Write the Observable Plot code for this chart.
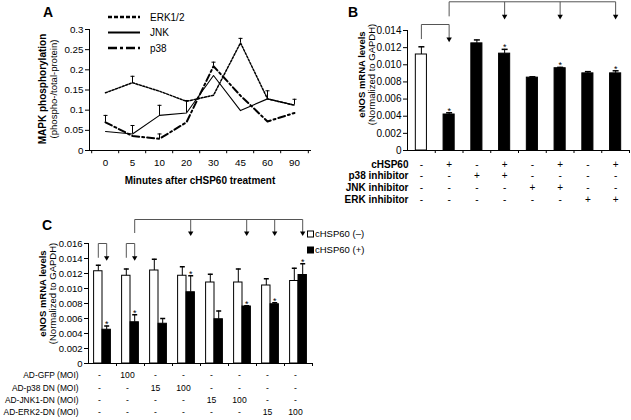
<!DOCTYPE html>
<html><head><meta charset="utf-8">
<script src="https://cdn.jsdelivr.net/npm/d3@7"></script>
<script src="https://cdn.jsdelivr.net/npm/@observablehq/plot@0.6"></script>
<style>
body{margin:0;background:#fff;}
#fig{position:relative;width:631px;height:420px;overflow:hidden;background:#fff;font-family:'Liberation Sans',Arial,sans-serif;color:#000;}
#fig > svg, #fig > .abs{position:absolute;}
.letter{position:absolute;font-weight:bold;font-size:14px;line-height:1;}
</style></head><body><div id="fig"></div>
<script>
// ---------- Panel A data ----------
const aMinutes = ["0","5","10","20","30","45","60","90"];
const aTicks = [0, 0.05, 0.1, 0.15, 0.2, 0.25, 0.3];
const aERK    = [0.143, 0.168, 0.147, 0.122, 0.137, 0.267, 0.128, 0.112];
const aERKErr = [0, 0.016, 0, 0, 0, 0.011, 0, 0];
const aJNK    = [0.047, 0.041, 0.087, 0.093, 0.186, 0.099, 0.128, 0.113];
const aJNKErr = [0, 0.021, 0.025, 0.031, 0, 0, 0.020, 0.014];
const aP38    = [0.070, 0.036, 0.029, 0.070, 0.209, 0.136, 0.072, 0.093];
const aP38Err = [0.017, 0, 0.012, 0, 0.010, 0, 0, 0];
const aSeries = ["ERK1/2", "JNK", "p38"];

// ---------- Panel B data ----------
const bTicks = [0, 0.002, 0.004, 0.006, 0.008, 0.010, 0.012, 0.014];
const bMean = [0.0112, 0.0042, 0.0125, 0.0113, 0.0085, 0.0096, 0.0090, 0.0090];
const bErr  = [0.0009, 0.0002, 0.0004, 0.0005, 0.0001, 0.0001, 0.0002, 0.0003];
const bStar = ["", "*", "", "*", "", "*", "", "*"];
const bRowLabels = ["cHSP60", "p38 inhibitor", "JNK inhibitor", "ERK inhibitor"];
const bCHSP60 = ["-","+","-","+","-","+","-","+"];
const bP38    = ["-","-","+","+","-","-","-","-"];
const bJNK    = ["-","-","-","-","+","+","-","-"];
const bERK    = ["-","-","-","-","-","-","+","+"];
const bBrackets = [{from: 0, to: [1], top: 0.0147, drop: 0.0130},
                   {from: 1, to: [3, 5, 7], top: 0.01735, drop: 0.01565}];

// ---------- Panel C data ----------
const cTicks = [0, 0.002, 0.004, 0.006, 0.008, 0.010, 0.012, 0.014, 0.016];
const cSeries = ["cHSP60 (–)", "cHSP60 (+)"];
const cNeg    = [0.0123, 0.0117, 0.0124, 0.0117, 0.0108, 0.0108, 0.0104, 0.0110];
const cNegErr = [0.0008, 0.0009, 0.0015, 0.0012, 0.0011, 0.0018, 0.0009, 0.0017];
const cPos    = [0.0045, 0.0055, 0.0053, 0.0095, 0.0059, 0.0076, 0.0079, 0.0118];
const cPosErr = [0.0005, 0.0010, 0.0007, 0.0022, 0.0011, 0.0001, 0.0002, 0.0015];
const cStar   = ["*", "*", "", "*", "", "*", "*", "*"];
const cRowLabels = ["AD-GFP (MOI)", "AD-p38 DN (MOI)", "AD-JNK1-DN (MOI)", "AD-ERK2-DN (MOI)"];
const cGFP  = ["-","100","-","-","-","-","-","-"];
const cP38  = ["-","-","15","100","-","-","-","-"];
const cJNK1 = ["-","-","-","-","15","100","-","-"];
const cERK2 = ["-","-","-","-","-","-","15","100"];
const cSmallBrackets = [{group: 0, top: 0.0160, drop: 0.0141}, {group: 1, top: 0.0160, drop: 0.0141}];
const cBigBracket = {from: 1, to: [3, 5, 6, 7], top: 0.0192, drop: 0.0174};

// ---------- helpers ----------
const FONT = "'Liberation Sans', Arial, sans-serif";
const fig = document.getElementById("fig");
const cap = {draw(ctx, size) { const r = Math.sqrt(size / Math.PI); ctx.moveTo(-r, 0); ctx.lineTo(r, 0); }};
const fmt3 = d => d === 0 ? "0" : d.toFixed(3);
const BR = "#555";
function place(svg, left, top) { svg.style.left = left + "px"; svg.style.top = top + "px"; fig.appendChild(svg); }
function letter(t, x, y) { const d = document.createElement("div"); d.className = "letter"; d.textContent = t; d.style.left = x + "px"; d.style.top = y + "px"; fig.appendChild(d); }

// ================= Panel A =================
{
  const W = 320, H = 200, mL = 89, mR = 10, mT = 29, mB = 50;
  const step = (W - mL - mR) / aMinutes.length;
  const vals = [aERK, aJNK, aP38], errs = [aERKErr, aJNKErr, aP38Err];
  const rows = aSeries.flatMap((s, k) => aMinutes.map((m, i) => ({series: s, minute: m, value: vals[k][i], err: errs[k][i]})));
  const errRows = rows.filter(d => d.err > 0);
  const styles = {"ERK1/2": {strokeWidth: 1.5, strokeDasharray: "2,1.6"},
                  "JNK": {strokeWidth: 1.1},
                  "p38": {strokeWidth: 2, strokeDasharray: "7,3,2,3"}};
  const svg = Plot.plot({
    width: W, height: H, marginLeft: mL, marginRight: mR, marginTop: mT, marginBottom: mB,
    style: {fontFamily: FONT, fontSize: "9.8px", color: "#000", background: "transparent", overflow: "visible"},
    x: {type: "point", domain: aMinutes, padding: 0.5, tickSize: 0, tickPadding: 9, line: true, label: null},
    y: {domain: [0, 0.3], ticks: aTicks, tickFormat: d => String(d), tickSize: 4, tickPadding: 2, line: true, label: null},
    marks: [
      Plot.ruleX(aMinutes, {x: d => d, dx: -step / 2, y1: 0, y2: -0.008, stroke: "#000"}),
      Plot.ruleX(aMinutes.slice(-1), {x: d => d, dx: step / 2, y1: 0, y2: -0.008, stroke: "#000"}),
      ...aSeries.map(s => Plot.line(rows.filter(d => d.series === s), {x: "minute", y: "value", stroke: "#000", ...styles[s]})),
      Plot.ruleX(errRows, {x: "minute", y1: "value", y2: d => d.value + d.err, stroke: "#000", strokeWidth: 1}),
      Plot.dot(errRows, {x: "minute", y: d => d.value + d.err, symbol: cap, r: 2, stroke: "#000", fill: "none", strokeWidth: 1}),
      Plot.text(["Minutes after cHSP60 treatment"], {frameAnchor: "bottom", dy: 30, lineAnchor: "middle", fontWeight: "bold", fontSize: 10}),
      Plot.text(["MAPK phosphorylation"], {frameAnchor: "left", dx: -47, dy: -1, rotate: -90, textAnchor: "middle", lineAnchor: "middle", fontWeight: "bold", fontSize: 10}),
      Plot.text(["(phospho-/total-protein)"], {frameAnchor: "left", dx: -36, dy: -1, rotate: -90, textAnchor: "middle", lineAnchor: "middle", fontSize: 9.5})
    ]
  });
  place(svg, 0, 0);
  // legend
  const lg = d3.create("svg").attr("width", 90).attr("height", 50).attr("class", "abs")
    .style("left", "105px").style("top", "8px").style("font-family", FONT).style("font-size", "10px");
  const legStyles = [{w: 2.5, dash: "4,2"}, {w: 2, dash: null}, {w: 2.5, dash: "9,3,3,3"}];
  aSeries.forEach((s, k) => {
    const y = 9 + k * 15.5;
    lg.append("line").attr("x1", 3).attr("x2", 35).attr("y1", y).attr("y2", y)
      .attr("stroke", "#000").attr("stroke-width", legStyles[k].w).attr("stroke-dasharray", legStyles[k].dash);
    lg.append("text").attr("x", 45).attr("y", y).attr("dy", "0.35em").text(s);
  });
  fig.appendChild(lg.node());
  letter("A", 43, 5);
}

// ================= Panel B =================
{
  const W = 311, H = 210, mL = 87, mR = 2, mT = 30, mB = 60;
  const table = [bCHSP60, bP38, bJNK, bERK];
  const rows = bMean.map((v, i) => ({i, v, e: bErr[i], star: bStar[i], control: table.every(a => a[i] === "-")}));
  const segs = [], tips = [];
  for (const b of bBrackets) {
    const last = b.to[b.to.length - 1];
    segs.push({x1: b.from + 0.5, y1: b.drop, x2: b.from + 0.5, y2: b.top});
    segs.push({x1: b.from + 0.5, y1: b.top, x2: last + 0.5, y2: b.top});
    for (const t of b.to) { segs.push({x1: t + 0.5, y1: b.top, x2: t + 0.5, y2: b.drop}); tips.push({x: t + 0.5, y: b.drop}); }
  }
  const rowDy = [14, 25.7, 37.4, 49];
  const svg = Plot.plot({
    width: W, height: H, marginLeft: mL, marginRight: mR, marginTop: mT, marginBottom: mB,
    style: {fontFamily: FONT, fontSize: "10px", color: "#000", background: "transparent", overflow: "visible"},
    x: {domain: [0, 8], ticks: d3.range(1, 9), tickSize: 3, tickFormat: () => "", line: true, label: null},
    y: {domain: [0, 0.014], ticks: bTicks, tickFormat: fmt3, tickSize: 4, tickPadding: 2, line: true, label: null},
    marks: [
      Plot.rectY(rows, {x1: d => d.i + 0.3, x2: d => d.i + 0.7, y1: 0, y2: "v", fill: d => d.control ? "white" : "black", stroke: "black", strokeWidth: 1}),
      Plot.ruleX(rows, {x: d => d.i + 0.5, y1: "v", y2: d => d.v + d.e, stroke: "#000"}),
      Plot.dot(rows, {x: d => d.i + 0.5, y: d => d.v + d.e, symbol: cap, r: 3, stroke: "#000", fill: "none"}),
      Plot.text(rows.filter(d => d.star), {x: d => d.i + 0.5, y: d => d.v + d.e, text: "star", lineAnchor: "bottom", dy: 1, fontSize: 9}),
      Plot.link(segs, {x1: "x1", y1: "y1", x2: "x2", y2: "y2", stroke: BR, strokeWidth: 1}),
      Plot.dot(tips, {x: "x", y: "y", symbol: "triangle", rotate: 180, r: 2, fill: "#000", stroke: "none"}),
      ...bRowLabels.map((lab, r) => Plot.text([lab], {frameAnchor: "bottom-left", dx: 1, dy: rowDy[r], textAnchor: "end", lineAnchor: "middle", fontWeight: "bold", fontSize: 10})),
      ...table.map((arr, r) => Plot.text(arr, {x: (d, i) => i + 0.5, frameAnchor: "bottom", dy: rowDy[r], lineAnchor: "middle", fontSize: 10})),
      Plot.text(["eNOS mRNA levels"], {frameAnchor: "left", dx: -46, dy: -16, rotate: -90, textAnchor: "middle", lineAnchor: "middle", fontWeight: "bold", fontSize: 9.5}),
      Plot.text(["(Normalized to GAPDH)"], {frameAnchor: "left", dx: -36, dy: -16, rotate: -90, textAnchor: "middle", lineAnchor: "middle", fontSize: 9.5})
    ]
  });
  place(svg, 320, 0);
  letter("B", 348, 5);
}

// ================= Panel C =================
{
  const W = 631, H = 210, mL = 88, mR = 319, mT = 33, mB = 57;
  const table = [cGFP, cP38, cJNK1, cERK2];
  const rows = cSeries.flatMap((s, k) => cNeg.map((_, i) => ({
    series: s, i, v: k === 0 ? cNeg[i] : cPos[i], e: k === 0 ? cNegErr[i] : cPosErr[i],
    x1: i + (k === 0 ? 0.2 : 0.5), x2: i + (k === 0 ? 0.5 : 0.8), star: k === 1 ? cStar[i] : ""})));
  const segs = [], tips = [];
  for (const b of cSmallBrackets) {
    segs.push({x1: b.group + 0.35, y1: b.drop, x2: b.group + 0.35, y2: b.top});
    segs.push({x1: b.group + 0.35, y1: b.top, x2: b.group + 0.65, y2: b.top});
    segs.push({x1: b.group + 0.65, y1: b.top, x2: b.group + 0.65, y2: b.drop});
    tips.push({x: b.group + 0.65, y: b.drop});
  }
  {
    const b = cBigBracket, last = b.to[b.to.length - 1];
    segs.push({x1: b.from + 0.65, y1: b.drop, x2: b.from + 0.65, y2: b.top});
    segs.push({x1: b.from + 0.65, y1: b.top, x2: last + 0.65, y2: b.top});
    for (const t of b.to) { segs.push({x1: t + 0.65, y1: b.top, x2: t + 0.65, y2: b.drop}); tips.push({x: t + 0.65, y: b.drop}); }
  }
  const rowDy = [12, 24.4, 36.7, 49];
  const svg = Plot.plot({
    width: W, height: H, marginLeft: mL, marginRight: mR, marginTop: mT, marginBottom: mB,
    style: {fontFamily: FONT, fontSize: "9.5px", color: "#000", background: "transparent", overflow: "visible"},
    x: {domain: [0, 8], ticks: d3.range(1, 9), tickSize: 3, tickFormat: () => "", line: true, label: null},
    y: {domain: [0, 0.016], ticks: cTicks, tickFormat: fmt3, tickSize: 4, tickPadding: 2, line: true, label: null},
    color: {domain: cSeries, range: ["white", "black"]},
    marks: [
      Plot.rectY(rows, {x1: "x1", x2: "x2", y1: 0, y2: "v", fill: "series", stroke: "black", strokeWidth: 1}),
      Plot.ruleX(rows, {x: d => (d.x1 + d.x2) / 2, y1: "v", y2: d => d.v + d.e, stroke: "#000"}),
      Plot.dot(rows, {x: d => (d.x1 + d.x2) / 2, y: d => d.v + d.e, symbol: cap, r: 2.5, stroke: "#000", fill: "none"}),
      Plot.text(rows.filter(d => d.star), {x: d => (d.x1 + d.x2) / 2, y: d => d.v + d.e, text: "star", lineAnchor: "bottom", dy: 1, fontSize: 9}),
      Plot.link(segs, {x1: "x1", y1: "y1", x2: "x2", y2: "y2", stroke: BR, strokeWidth: 1}),
      Plot.dot(tips, {x: "x", y: "y", symbol: "triangle", rotate: 180, r: 2, fill: "#000", stroke: "none"}),
      ...cRowLabels.map((lab, r) => Plot.text([lab], {frameAnchor: "bottom-left", dx: -10, dy: rowDy[r], textAnchor: "end", lineAnchor: "middle", fontSize: 8.4})),
      ...table.map((arr, r) => Plot.text(arr, {x: (d, i) => i + 0.5, frameAnchor: "bottom", dx: -3, dy: rowDy[r], lineAnchor: "middle", fontSize: 8.6})),
      Plot.text(["eNOS mRNA levels"], {frameAnchor: "left", dx: -46, dy: -10, rotate: -90, textAnchor: "middle", lineAnchor: "middle", fontWeight: "bold", fontSize: 9.5}),
      Plot.text(["(Normalized to GAPDH)"], {frameAnchor: "left", dx: -36, dy: -10, rotate: -90, textAnchor: "middle", lineAnchor: "middle", fontSize: 9.5})
    ]
  });
  place(svg, 0, 210);
  // legend
  const lg = d3.create("svg").attr("width", 80).attr("height", 30).attr("class", "abs")
    .style("left", "305px").style("top", "226px").style("font-family", FONT).style("font-size", "9.5px");
  cSeries.forEach((s, k) => {
    const y = 8 + k * 16;
    lg.append("rect").attr("x", 2.5).attr("y", y - 3).attr("width", 6).attr("height", 6)
      .attr("fill", k === 0 ? "white" : "black").attr("stroke", "#000").attr("stroke-width", 1);
    lg.append("text").attr("x", 10).attr("y", y).attr("dy", "0.35em").text(s);
  });
  fig.appendChild(lg.node());
  letter("C", 42, 218);
}
</script></body></html>
